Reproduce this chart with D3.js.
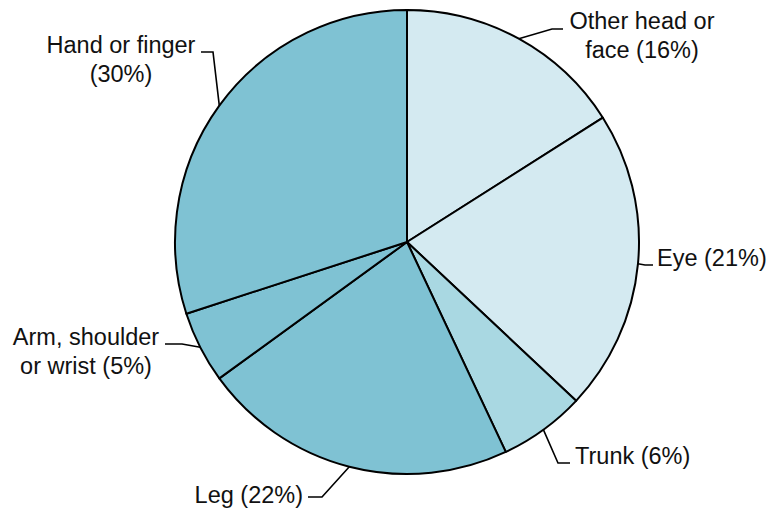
<html>
<head>
<meta charset="UTF-8">
<title>Injury location pie</title>
<script src="https://d3js.org/d3.v7.min.js"></script>
<style>
    body { margin: 0; background: #ffffff; }
    svg text { font-family: "Liberation Sans", Arial, sans-serif; font-size: 23.5px; fill: #111111; }
</style>
</head>
<body>
<div id="chart"></div>
<script>
    // data
    var categories = ["Other head or face", "Eye", "Trunk", "Leg", "Arm, shoulder or wrist", "Hand or finger"];
    var percents = [16, 21, 6, 22, 5, 30];
    var sliceColors = ["#d4eaf1", "#d4eaf1", "#a9d8e2", "#7fc2d3", "#7fc2d3", "#7fc2d3"];

    // label layout: words on first line, elbow, end of leader, text anchor point
    var labelLayout = [
        { wrap: 3, elbow: [552, 29], end: [563, 29], tx: 642, ty: 29, anchor: "middle" },
        { wrap: 0, elbow: [645, 265], end: [653, 265], tx: 657, ty: 266, anchor: "start" },
        { wrap: 0, elbow: [558, 463], end: [570, 463], tx: 575, ty: 464, anchor: "start" },
        { wrap: 0, elbow: [322, 497], end: [308, 497], tx: 303, ty: 503, anchor: "end" },
        { wrap: 2, elbow: [182, 344], end: [165, 344], tx: 86, ty: 345, anchor: "middle" },
        { wrap: 3, elbow: [213, 52], end: [201, 52], tx: 121, ty: 53, anchor: "middle" }
    ];

    var width = 771, height = 508;
    var cx = 407, cy = 242, radius = 232;

    var svg = d3.select("#chart").append("svg")
        .attr("width", width)
        .attr("height", height);

    var rows = categories.map(function(c, i) {
        return { name: c, value: percents[i], color: sliceColors[i], layout: labelLayout[i] };
    });

    var pie = d3.pie().value(function(d) { return d.value; }).sort(null);
    var arc = d3.arc().innerRadius(0).outerRadius(radius);
    var edge = d3.arc().innerRadius(radius).outerRadius(radius);

    var g = svg.append("g").attr("transform", "translate(" + cx + "," + cy + ")");

    var arcs = pie(rows);

    g.selectAll("path.slice")
        .data(arcs)
        .enter()
        .append("path")
        .attr("class", "slice")
        .attr("d", arc)
        .attr("fill", function(d) { return d.data.color; })
        .attr("stroke", "#000")
        .attr("stroke-width", 2)
        .attr("stroke-linejoin", "round");

    // leader lines
    svg.selectAll("polyline.leader")
        .data(arcs)
        .enter()
        .append("polyline")
        .attr("class", "leader")
        .attr("fill", "none")
        .attr("stroke", "#000")
        .attr("stroke-width", 1.6)
        .attr("points", function(d) {
            var p = edge.centroid(d);
            var L = d.data.layout;
            return [[p[0] + cx, p[1] + cy], L.elbow, L.end].map(function(q) { return q.join(","); }).join(" ");
        });

    // labels
    svg.selectAll("text.lbl")
        .data(arcs)
        .enter()
        .append("text")
        .attr("class", "lbl")
        .attr("x", function(d) { return d.data.layout.tx; })
        .attr("y", function(d) { return d.data.layout.ty; })
        .attr("text-anchor", function(d) { return d.data.layout.anchor; })
        .each(function(d) {
            var full = (d.data.name + " (" + d.data.value + "%)").split(" ");
            var w = d.data.layout.wrap;
            var lines = w > 0 ? [full.slice(0, w).join(" "), full.slice(w).join(" ")] : [full.join(" ")];
            var t = d3.select(this);
            lines.forEach(function(line, k) {
                t.append("tspan")
                    .attr("x", d.data.layout.tx)
                    .attr("dy", k === 0 ? 0 : 28.5)
                    .text(line);
            });
        });
</script>
</body>
</html>
